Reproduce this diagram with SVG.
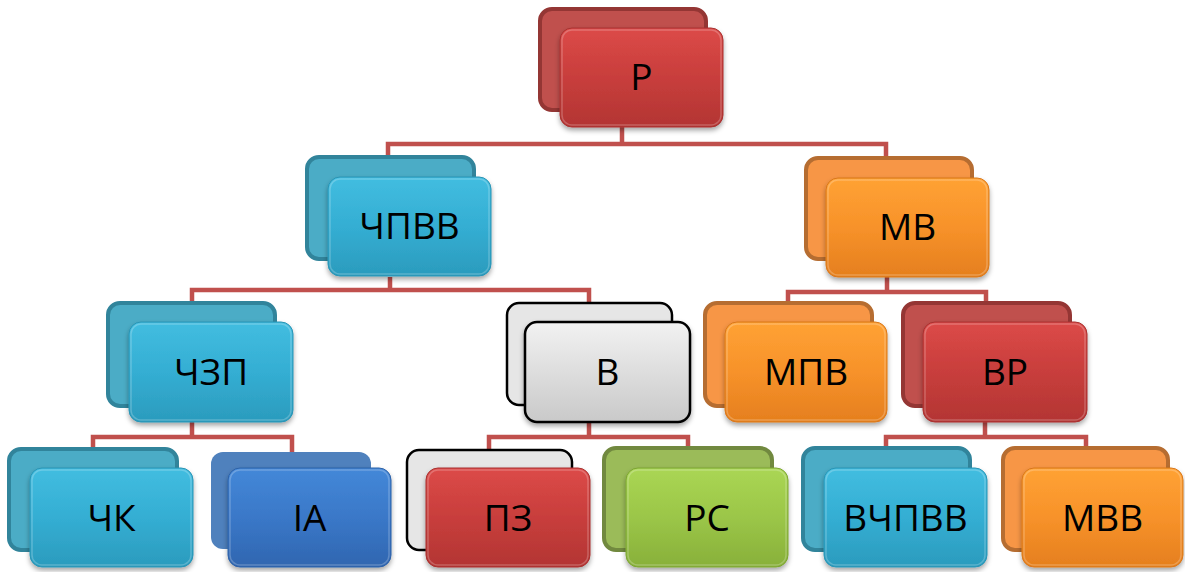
<svg xmlns="http://www.w3.org/2000/svg" width="1185" height="572" viewBox="0 0 1185 572">
<defs>
<linearGradient id="gRed" x1="0" y1="0" x2="0" y2="1"><stop offset="0" stop-color="#dc4a48"/><stop offset="0.5" stop-color="#c83e3c"/><stop offset="1" stop-color="#b33533"/></linearGradient>
<linearGradient id="gCyan" x1="0" y1="0" x2="0" y2="1"><stop offset="0" stop-color="#42bde0"/><stop offset="0.5" stop-color="#34aed3"/><stop offset="1" stop-color="#2b9bbd"/></linearGradient>
<linearGradient id="gBlue" x1="0" y1="0" x2="0" y2="1"><stop offset="0" stop-color="#4488d8"/><stop offset="0.5" stop-color="#3a78c8"/><stop offset="1" stop-color="#3066b0"/></linearGradient>
<linearGradient id="gGray" x1="0" y1="0" x2="0" y2="1"><stop offset="0" stop-color="#f2f2f2"/><stop offset="1" stop-color="#c9c9c9"/></linearGradient>
<linearGradient id="gOrange" x1="0" y1="0" x2="0" y2="1"><stop offset="0" stop-color="#ffa234"/><stop offset="0.5" stop-color="#f7922a"/><stop offset="1" stop-color="#e57f1e"/></linearGradient>
<linearGradient id="gGreen" x1="0" y1="0" x2="0" y2="1"><stop offset="0" stop-color="#aad654"/><stop offset="0.5" stop-color="#9bc648"/><stop offset="1" stop-color="#88b03a"/></linearGradient>
<filter id="sh" x="-10%" y="-10%" width="125%" height="130%"><feDropShadow dx="0" dy="3" stdDeviation="2.5" flood-color="#000" flood-opacity="0.35"/></filter>
</defs>
<style>
.back{stroke-width:4}
.front{filter:url(#sh);stroke-width:1}
.bRed{fill:#c0504d;stroke:#943634}
.bCyan{fill:#4bacc6;stroke:#31849b}
.bBlue{fill:#4f81bd;stroke:none}
.bGray{fill:#e6e6e6;stroke:#000;stroke-width:2.5}
.bOrange{fill:#f79646;stroke:#b66d31}
.bGreen{fill:#9bbb59;stroke:#71893f}
.fRed{fill:url(#gRed);stroke:#a83230}
.fCyan{fill:url(#gCyan);stroke:#2a94b4}
.fBlue{fill:url(#gBlue);stroke:#2e62a8}
.fGray{fill:url(#gGray);stroke:#000;stroke-width:2.5}
.fOrange{fill:url(#gOrange);stroke:#d8781c}
.fGreen{fill:url(#gGreen);stroke:#7da534}
.hl{fill:none;stroke:#fff;stroke-opacity:0.22;stroke-width:1.5}
text{font-family:"Open Sans","Liberation Sans",sans-serif;font-size:37px;fill:#000;text-anchor:middle}
.conn{fill:none;stroke:#c0504d;stroke-width:4.5}
</style>
<g id="connectors" class="conn">
<path d="M622,127V144M388,157V144H886V158"/>
<path d="M390,277V290M192,303V290H589V303"/>
<path d="M887,277V292M788,303V292H986V303"/>
<path d="M192,422V437M93,449V437H292V452"/>
<path d="M589,422V437M489,450V437H688V448"/>
<path d="M985,422V437M886,448V437H1086V448"/>
</g>
<g id="node-r">
<rect class="back bRed" x="540" y="9" width="166" height="101" rx="12"/>
<rect class="front fRed" x="560" y="28" width="163" height="99" rx="12"/>
<rect class="hl" x="562" y="30" width="159" height="95" rx="10"/>
<text x="641.5" y="90">Р</text>
</g>
<g id="node-chpvv">
<rect class="back bCyan" x="307" y="157" width="167" height="102" rx="12"/>
<rect class="front fCyan" x="328" y="177" width="163" height="99" rx="12"/>
<rect class="hl" x="330" y="179" width="159" height="95" rx="10"/>
<text x="409.5" y="239">ЧПВВ</text>
</g>
<g id="node-mv">
<rect class="back bOrange" x="806" y="158" width="166" height="101" rx="12"/>
<rect class="front fOrange" x="826" y="178" width="163" height="99" rx="12"/>
<rect class="hl" x="828" y="180" width="159" height="95" rx="10"/>
<text x="907.5" y="240">МВ</text>
</g>
<g id="node-chzp">
<rect class="back bCyan" x="108" y="303" width="167" height="103" rx="12"/>
<rect class="front fCyan" x="129" y="322" width="164" height="100" rx="12"/>
<rect class="hl" x="131" y="324" width="160" height="96" rx="10"/>
<text x="211" y="385">ЧЗП</text>
</g>
<g id="node-v">
<rect class="back bGray" x="507" y="303" width="165" height="102" rx="12"/>
<rect class="front fGray" x="525" y="322" width="165" height="100" rx="12"/>
<text x="607.5" y="385">В</text>
</g>
<g id="node-mpv">
<rect class="back bOrange" x="705" y="303" width="167" height="103" rx="12"/>
<rect class="front fOrange" x="725" y="322" width="162" height="100" rx="12"/>
<rect class="hl" x="727" y="324" width="158" height="96" rx="10"/>
<text x="806" y="385">МПВ</text>
</g>
<g id="node-vr">
<rect class="back bRed" x="903" y="303" width="167" height="103" rx="12"/>
<rect class="front fRed" x="923" y="322" width="164" height="100" rx="12"/>
<rect class="hl" x="925" y="324" width="160" height="96" rx="10"/>
<text x="1005" y="385">ВР</text>
</g>
<g id="node-chk">
<rect class="back bCyan" x="9" y="449" width="168" height="101" rx="12"/>
<rect class="front fCyan" x="30" y="468" width="163" height="99" rx="12"/>
<rect class="hl" x="32" y="470" width="159" height="95" rx="10"/>
<text x="111.5" y="531">ЧК</text>
</g>
<g id="node-ia">
<rect class="back bBlue" x="211" y="452" width="160" height="97" rx="12"/>
<rect class="front fBlue" x="228" y="468" width="163" height="99" rx="12"/>
<rect class="hl" x="230" y="470" width="159" height="95" rx="10"/>
<text x="309.5" y="531">ІА</text>
</g>
<g id="node-pz">
<rect class="back bGray" x="407" y="450" width="165" height="100" rx="12"/>
<rect class="front fRed" x="426" y="468" width="164" height="99" rx="12"/>
<rect class="hl" x="428" y="470" width="160" height="95" rx="10"/>
<text x="508" y="531">ПЗ</text>
</g>
<g id="node-rs">
<rect class="back bGreen" x="604" y="448" width="168" height="102" rx="12"/>
<rect class="front fGreen" x="626" y="468" width="162" height="99" rx="12"/>
<rect class="hl" x="628" y="470" width="158" height="95" rx="10"/>
<text x="707" y="531">РС</text>
</g>
<g id="node-vchpvv">
<rect class="back bCyan" x="803" y="448" width="167" height="102" rx="12"/>
<rect class="front fCyan" x="824" y="468" width="163" height="99" rx="12"/>
<rect class="hl" x="826" y="470" width="159" height="95" rx="10"/>
<text x="905.5" y="531">ВЧПВВ</text>
</g>
<g id="node-mvv">
<rect class="back bOrange" x="1003" y="448" width="165" height="102" rx="12"/>
<rect class="front fOrange" x="1022" y="468" width="161" height="99" rx="12"/>
<rect class="hl" x="1024" y="470" width="157" height="95" rx="10"/>
<text x="1102.5" y="531">МВВ</text>
</g>
</svg>
